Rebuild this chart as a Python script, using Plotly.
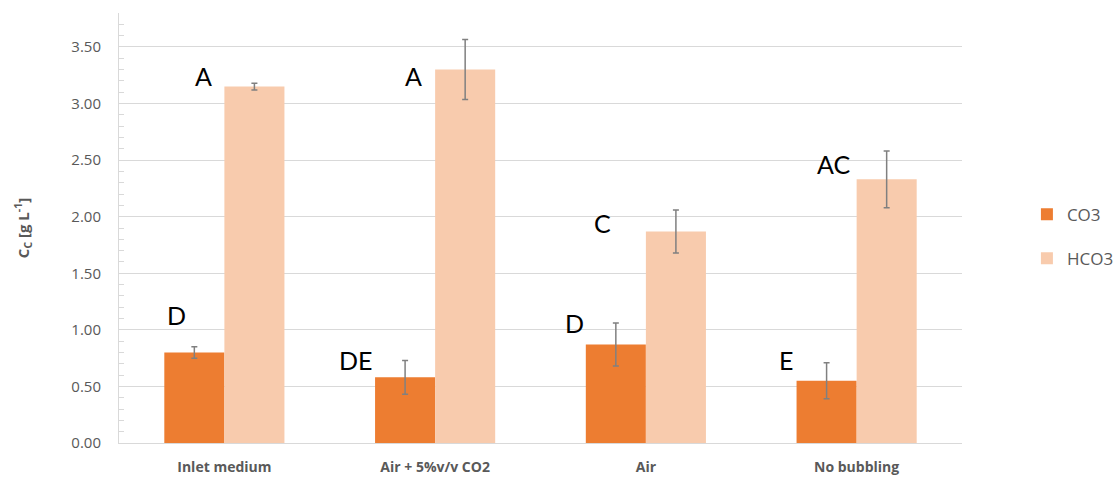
import plotly.graph_objects as go

categories = ["Inlet medium", "Air + 5%v/v CO2", "Air", "No bubbling"]
co3 = [0.80, 0.58, 0.87, 0.55]
co3_err = [0.05, 0.15, 0.19, 0.16]
hco3 = [3.15, 3.30, 1.87, 2.33]
hco3_err = [0.03, 0.265, 0.19, 0.25]

# significance letters: (category, text, y position in data units, pixel shift in x)
letters = [
    ("Inlet medium", "D", 1.13, -48),
    ("Inlet medium", "A", 3.24, -21),
    ("Air + 5%v/v CO2", "DE", 0.73, -80),
    ("Air + 5%v/v CO2", "A", 3.24, -22),
    ("Air", "D", 1.06, -71),
    ("Air", "C", 1.94, -43),
    ("No bubbling", "E", 0.73, -71),
    ("No bubbling", "AC", 2.47, -23),
]

GRAY = "#595959"
GRID = "#d9d9d9"
FONT = "Open Sans"

fig = go.Figure()
fig.add_trace(go.Bar(
    x=categories, y=co3, name="CO3", marker_color="#ED7D31",
    marker_line_width=0,
    error_y=dict(type="data", array=co3_err, color="#808080", thickness=1.5, width=3),
))
fig.add_trace(go.Bar(
    x=categories, y=hco3, name="HCO3", marker_color="#F8CBAD",
    marker_line_width=0, legendgroup="h",
    error_y=dict(type="data", array=hco3_err, color="#808080", thickness=1.5, width=3),
))

for cat, txt, yv, dx in letters:
    fig.add_annotation(x=cat, y=yv, text=txt, showarrow=False, xshift=dx,
                       font=dict(family="Lato", size=25, color="black"))

fig.update_layout(
    width=1115, height=478,
    margin=dict(l=119, r=153, t=13, b=35),
    paper_bgcolor="white", plot_bgcolor="white",
    barmode="group", bargap=0.43, bargroupgap=0,
    font=dict(family=FONT, color=GRAY),
    legend=dict(xref="container", yref="container", x=0.921, y=0.505,
                xanchor="left", yanchor="middle",
                font=dict(size=17, color=GRAY), tracegroupgap=19,
                itemwidth=30, traceorder="grouped"),
    showlegend=True,
)
fig.update_xaxes(
    showgrid=False, showline=True, linecolor=GRID, linewidth=1,
    tickfont=dict(size=14, color=GRAY, weight="bold"), ticks="",
    ticklabelstandoff=11, automargin=False,
)
fig.update_yaxes(
    range=[0, 3.8], dtick=0.5, tickformat=".2f",
    showgrid=True, gridcolor=GRID, gridwidth=1,
    showline=True, linecolor=GRID, linewidth=1,
    ticks="inside", ticklen=5, tickcolor=GRID,
    minor=dict(dtick=0.1, ticks="inside", ticklen=5, tickcolor=GRID, showgrid=False),
    tickfont=dict(size=15, color=GRAY), ticklabelstandoff=14,
    zeroline=False, automargin=False,
    title=dict(text="C<sub>C</sub> [g L<sup>-1</sup>]",
               font=dict(size=15, color=GRAY, weight="bold"), standoff=38),
)

fig.write_html("out.html")
